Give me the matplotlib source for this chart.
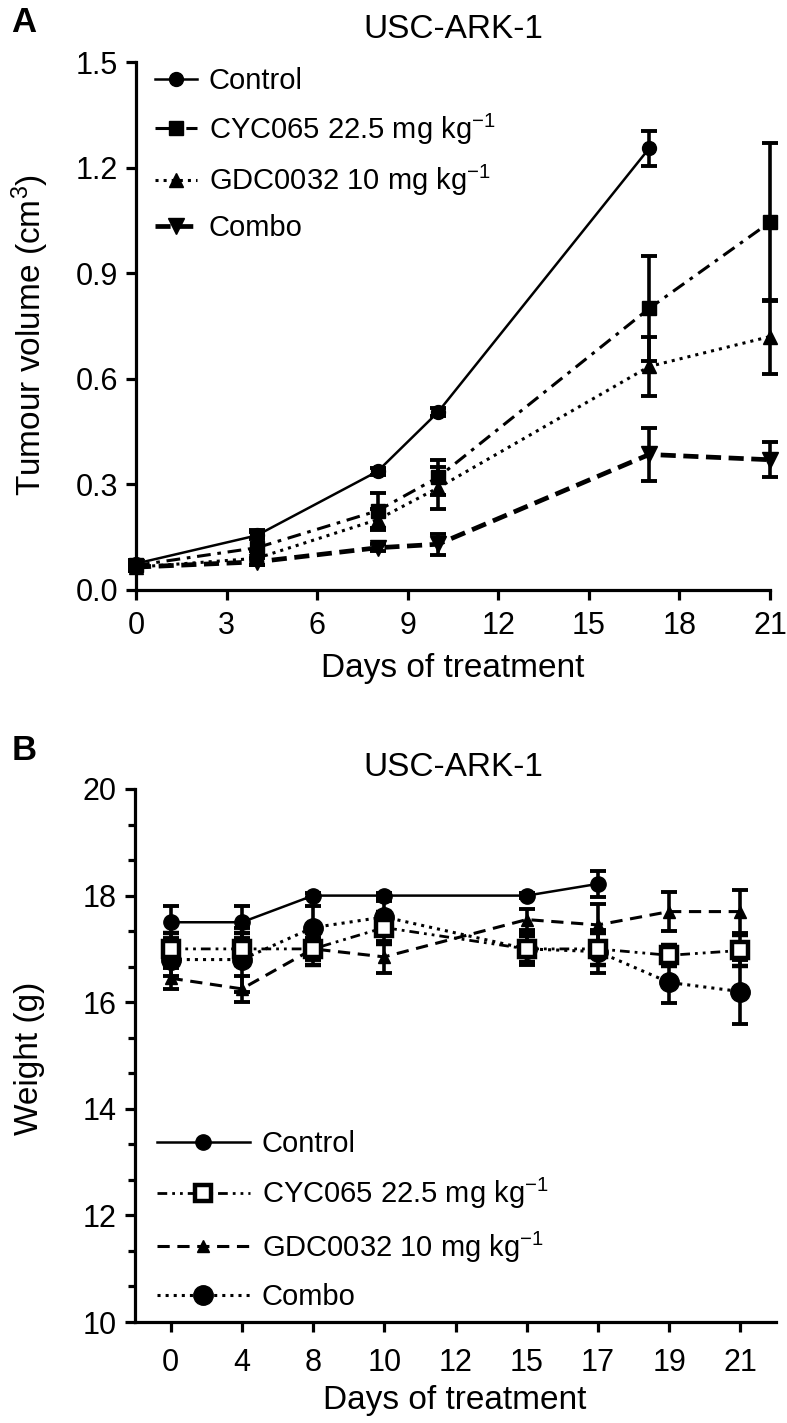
import numpy as np
import matplotlib
matplotlib.use('Agg')
from matplotlib import pyplot as plt
from matplotlib.ticker import MultipleLocator, AutoMinorLocator

plt.rcParams['font.family'] = ['Liberation Sans', 'DejaVu Sans']
plt.rcParams['mathtext.fontset'] = 'custom'
plt.rcParams['mathtext.rm'] = 'Liberation Sans'
plt.rcParams['mathtext.it'] = 'Liberation Sans:italic'
plt.rcParams['font.size'] = 22

# ---- panel A data: tumour volume (cm3)
days_a = [0, 4, 8, 10, 17, 21]
ctrl_days_a = [0, 4, 8, 10, 17]
ctrl_a = [0.075, 0.155, 0.337, 0.505, 1.255]
ctrl_a_err = [0.01, 0.01, 0.01, 0.012, 0.05]
cyc_a = [0.07, 0.12, 0.225, 0.32, 0.80, 1.045]
cyc_a_err = [0.01, 0.05, 0.05, 0.05, 0.15, 0.225]
gdc_a = [0.065, 0.09, 0.20, 0.29, 0.635, 0.72]
gdc_a_err = [0.01, 0.02, 0.03, 0.06, 0.085, 0.105]
combo_a = [0.065, 0.08, 0.12, 0.13, 0.385, 0.37]
combo_a_err = [0.01, 0.01, 0.01, 0.03, 0.075, 0.05]

# ---- panel B data: body weight (g)
tick_labels_b = ['0', '4', '8', '10', '12', '15', '17', '19', '21']
days_b = ['0', '4', '8', '10', '15', '17', '19', '21']
ctrl_days_b = ['0', '4', '8', '10', '15', '17']
ctrl_b = [17.5, 17.5, 18.0, 18.0, 18.0, 18.22]
ctrl_b_err = [0.3, 0.3, 0.05, 0.05, 0.05, 0.25]
cyc_b = [17.0, 17.0, 17.0, 17.4, 17.0, 17.0, 16.88, 16.97]
cyc_b_err = [0.3, 0.3, 0.3, 0.3, 0.25, 0.3, 0.2, 0.3]
gdc_b = [16.45, 16.25, 17.0, 16.85, 17.55, 17.45, 17.7, 17.7]
gdc_b_err = [0.2, 0.25, 0.2, 0.3, 0.2, 0.4, 0.37, 0.4]
combo_b = [16.8, 16.8, 17.4, 17.6, 17.0, 16.95, 16.37, 16.2]
combo_b_err = [0.3, 0.6, 0.4, 0.3, 0.3, 0.4, 0.38, 0.6]

lab_ctrl = 'Control'
lab_cyc = 'CYC065 22.5 mg kg$^{-1}$'
lab_gdc = 'GDC0032 10 mg kg$^{-1}$'
lab_combo = 'Combo'

W, H = 787, 1423
fig = plt.figure(figsize=(W / 100., H / 100.), dpi=100)

def px_axes(l, r, t, b):
    return fig.add_axes([l / W, 1 - b / H, (r - l) / W, (b - t) / H])

def style_axes(ax):
    for s in ['top', 'right']:
        ax.spines[s].set_visible(False)
    for s in ['left', 'bottom']:
        ax.spines[s].set_linewidth(2.3)
    ax.tick_params(which='major', length=7, width=2.3)
    ax.tick_params(which='minor', length=5, width=2.3)

ebkw = dict(ecolor='k', elinewidth=2.6, capsize=6, capthick=2.8, color='k', clip_on=False)
lblsize = 24

# ================= panel A
axA = px_axes(136, 770, 62, 590)
style_axes(axA)
cA = []
cA.append(axA.errorbar(ctrl_days_a, ctrl_a, yerr=ctrl_a_err, fmt='-o', lw=1.8, ms=10, label=lab_ctrl,
                       zorder=5, **ebkw))
cA.append(axA.errorbar(days_a, cyc_a, yerr=cyc_a_err, fmt='-s', lw=2.2, ms=10, dashes=(4.5, 2.2, 1.2, 2.2),
                       label=lab_cyc, zorder=4, **ebkw))
cA.append(axA.errorbar(days_a, gdc_a, yerr=gdc_a_err, fmt=':^', lw=2.2, ms=10, label=lab_gdc,
                       zorder=3, **ebkw))
cA.append(axA.errorbar(days_a, combo_a, yerr=combo_a_err, fmt='--v', lw=3.4, ms=11, dashes=(3.2, 1.6),
                       label=lab_combo, zorder=3, **ebkw))
axA.set_xlim(0, 21)
axA.set_ylim(0, 1.5)
axA.xaxis.set_major_locator(MultipleLocator(3))
axA.yaxis.set_major_locator(MultipleLocator(0.3))
axA.yaxis.set_major_formatter(matplotlib.ticker.FormatStrFormatter('%.1f'))
axA.tick_params(axis='x', pad=8)
axA.tick_params(axis='y', pad=6)
axA.legend(handles=[c[0] for c in cA], labels=[lab_ctrl, lab_cyc, lab_gdc, lab_combo],
           loc='upper left', bbox_to_anchor=(0.03, 0.99), frameon=False, handlelength=1.45,
           handletextpad=0.4, labelspacing=0.55, borderpad=0, borderaxespad=0, fontsize=21)

fig.text(24, H - 23, 'A', fontsize=25, fontweight='bold', ha='center', va='center',
         transform=None)
fig.text(453 / W, 1 - 29 / H, 'USC-ARK-1', ha='center', va='center', fontsize=lblsize)
fig.text(453 / W, 1 - 668 / H, 'Days of treatment', ha='center', va='center', fontsize=lblsize)
fig.text(30 / W, 1 - 335 / H, 'Tumour volume (cm$^3$)', ha='center', va='center', rotation=90,
         fontsize=lblsize)

# ================= panel B
axB = px_axes(135, 776, 789, 1322)
style_axes(axB)
xb = [tick_labels_b.index(d) for d in days_b]
xcb = [tick_labels_b.index(d) for d in ctrl_days_b]
cB = []
cB.append(axB.errorbar(xcb, ctrl_b, yerr=ctrl_b_err, fmt='-o', lw=1.8, ms=11, label=lab_ctrl,
                       zorder=5, **ebkw))
cB.append(axB.errorbar(xb, cyc_b, yerr=cyc_b_err, fmt='-s', lw=2.0, ms=11, mfc='white', mew=3.2,
                       dashes=(3.5, 1.8, 1, 1.8, 1, 1.8), label=lab_cyc, zorder=4, **ebkw))
cB.append(axB.errorbar(xb, gdc_b, yerr=gdc_b_err, fmt='--^', lw=2.2, ms=9, dashes=(4, 2.5),
                       label=lab_gdc, zorder=3, **ebkw))
cB.append(axB.errorbar(xb, combo_b, yerr=combo_b_err, fmt=':o', lw=2.2, ms=14, label=lab_combo,
                       zorder=3, **ebkw))
axB.set_xlim(-0.5, 8.5)
axB.set_ylim(10, 20)
axB.set_xticks(range(len(tick_labels_b)))
axB.set_xticklabels(tick_labels_b)
axB.yaxis.set_major_locator(MultipleLocator(2))
axB.yaxis.set_minor_locator(AutoMinorLocator(3))
axB.tick_params(axis='x', pad=12)
axB.tick_params(axis='y', pad=6)
axB.legend(handles=[c[0] for c in cB], labels=[lab_ctrl, lab_cyc, lab_gdc, lab_combo],
           loc='upper left', bbox_to_anchor=(0.034, 0.36), frameon=False, handlelength=3.2,
           handletextpad=0.4, labelspacing=0.62, borderpad=0, borderaxespad=0, fontsize=21)

fig.text(24, H - 750, 'B', fontsize=25, fontweight='bold', ha='center', va='center',
         transform=None)
fig.text(453 / W, 1 - 768 / H, 'USC-ARK-1', ha='center', va='center', fontsize=lblsize)
fig.text(455 / W, 1 - 1401 / H, 'Days of treatment', ha='center', va='center', fontsize=lblsize)
fig.text(30 / W, 1 - 1058 / H, 'Weight (g)', ha='center', va='center', rotation=90, fontsize=lblsize)

fig.savefig('out.png', dpi=100)
